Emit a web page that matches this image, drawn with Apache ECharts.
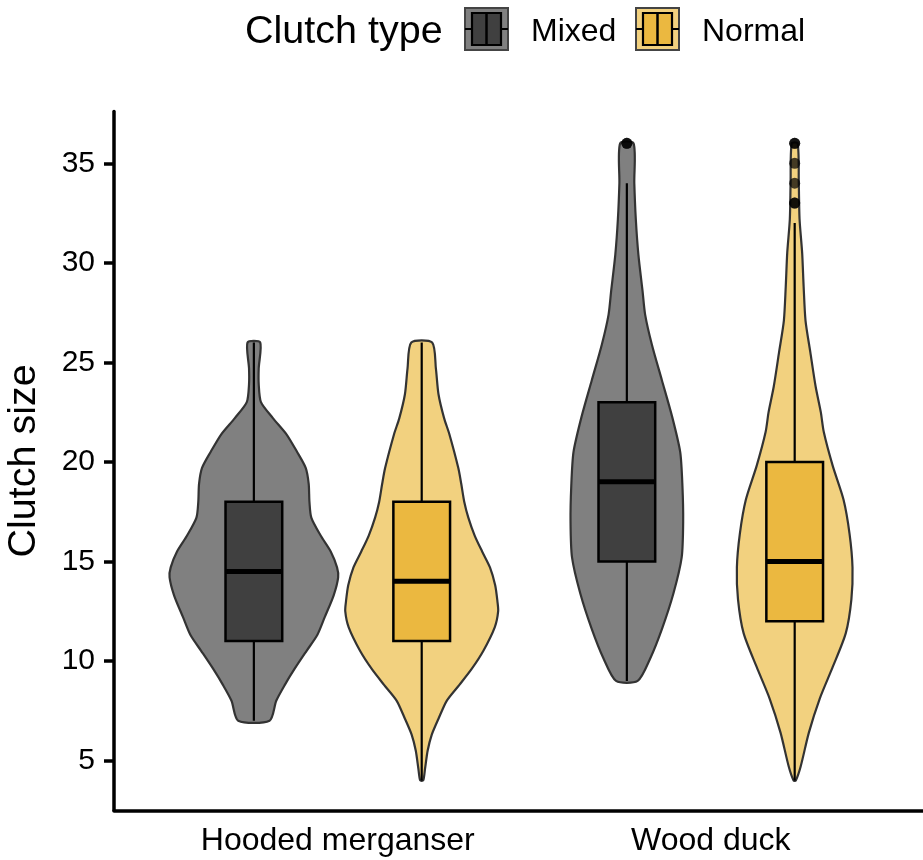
<!DOCTYPE html>
<html>
<head>
<meta charset="utf-8">
<title>Clutch size by species and clutch type</title>
<script src="https://cdn.jsdelivr.net/npm/echarts@6/dist/echarts.min.js"></script>
<style>
  html, body { margin: 0; padding: 0; background: #ffffff; }
  #chart { width: 923px; height: 860px; }
</style>
</head>
<body>
<div id="chart"></div>
<script>
// Categories
const species = ['Hooded merganser', 'Wood duck'];
const clutchTypes = ['Mixed', 'Normal'];
const yTicks = [5, 10, 15, 20, 25, 30, 35];

// Violin outlines: clutch size levels and density half-widths (in category units)
const mergMixedY = [7.0, 8.0, 8.8, 9.6, 10.5, 11.3, 12.2, 13.3, 14.2, 14.7, 15.5, 16.3, 17.2, 18.0, 18.9, 19.7, 20.5, 21.4, 22.2, 23.0, 23.9, 24.7, 26.0];
const mergMixedW = [0.042, 0.060, 0.083, 0.109, 0.141, 0.170, 0.190, 0.214, 0.226, 0.223, 0.206, 0.179, 0.154, 0.149, 0.147, 0.139, 0.116, 0.087, 0.051, 0.019, 0.013, 0.013, 0.017];

const mergNormalY = [4.0, 4.6, 5.5, 6.3, 7.1, 8.0, 8.8, 9.6, 10.5, 11.7, 12.5, 13.0, 13.8, 14.7, 15.5, 16.3, 17.2, 18.0, 18.9, 19.7, 21.4, 22.2, 23.4, 24.7, 26.0];
const mergNormalW = [0.004, 0.009, 0.016, 0.027, 0.045, 0.067, 0.101, 0.134, 0.165, 0.196, 0.205, 0.203, 0.197, 0.183, 0.162, 0.142, 0.125, 0.114, 0.106, 0.098, 0.074, 0.060, 0.045, 0.038, 0.028];

const woodMixedY = [9.0, 10.1, 11.6, 13.4, 15.2, 17.0, 18.8, 20.5, 22.3, 24.1, 25.9, 27.4, 28.6, 30.4, 32.2, 34.0, 36.0];
const woodMixedW = [0.029, 0.062, 0.094, 0.125, 0.147, 0.151, 0.149, 0.143, 0.121, 0.094, 0.067, 0.049, 0.042, 0.031, 0.024, 0.020, 0.018];

const woodNormalY = [4.0, 4.7, 6.4, 8.1, 9.7, 11.4, 13.1, 14.7, 16.4, 18.1, 19.8, 21.5, 22.5, 23.8, 25.5, 27.1, 28.8, 30.5, 32.2, 34.0, 36.0];
const woodNormalW = [0.003, 0.016, 0.038, 0.067, 0.102, 0.137, 0.152, 0.155, 0.147, 0.131, 0.102, 0.078, 0.070, 0.056, 0.042, 0.029, 0.024, 0.020, 0.013, 0.011, 0.008];

// Box statistics: [lower whisker, Q1, median, Q3, upper whisker]
const mergMixedBox = [7, 11, 14.5, 18, 26];
const mergNormalBox = [4, 11, 14, 18, 26];
const woodMixedBox = [9, 15, 19, 23, 34];
const woodNormalBox = [4, 12, 15, 20, 32];

// Outliers: values and number of nests at each value
const woodMixedOutliers = [36];
const woodMixedOutlierCounts = [2];
const woodNormalOutliers = [33, 34, 35, 36];
const woodNormalOutlierCounts = [2, 1, 1, 2];

const violinColors = { Mixed: '#808080', Normal: '#F2D17F' };
const boxColors = { Mixed: '#404040', Normal: '#EBB840' };
const FONT = '"Liberation Sans", Arial, Helvetica, sans-serif';

const groups = {
  Mixed: [
    { y: mergMixedY, w: mergMixedW, box: mergMixedBox, out: [], cnt: [] },
    { y: woodMixedY, w: woodMixedW, box: woodMixedBox, out: woodMixedOutliers, cnt: woodMixedOutlierCounts }
  ],
  Normal: [
    { y: mergNormalY, w: mergNormalW, box: mergNormalBox, out: [], cnt: [] },
    { y: woodNormalY, w: woodNormalW, box: woodNormalBox, out: woodNormalOutliers, cnt: woodNormalOutlierCounts }
  ]
};

const DODGE = 0.225;     // half of the dodge width
const BOX_HALF = 0.076;  // half box width in category units

function makeRenderer(type, offset) {
  return function (params, api) {
    const idx = api.value(0) - 1;
    const g = groups[type][idx];
    const cx = idx + 1 + offset;
    const pts = [];
    for (let i = 0; i < g.y.length; i++) pts.push(api.coord([cx - g.w[i], g.y[i]]));
    for (let i = g.y.length - 1; i >= 0; i--) pts.push(api.coord([cx + g.w[i], g.y[i]]));
    const b = g.box;
    const pMin = api.coord([cx, b[0]]);
    const pMax = api.coord([cx, b[4]]);
    const tl = api.coord([cx - BOX_HALF, b[3]]);
    const br = api.coord([cx + BOX_HALF, b[1]]);
    const medL = api.coord([cx - BOX_HALF, b[2]]);
    const medR = api.coord([cx + BOX_HALF, b[2]]);
    const children = [
      { type: 'polygon', shape: { points: pts, smooth: 0.25 },
        style: { fill: violinColors[type], stroke: '#333333', lineWidth: 2.2 } },
      { type: 'line', shape: { x1: pMin[0], y1: pMin[1], x2: pMax[0], y2: pMax[1] },
        style: { stroke: '#000000', lineWidth: 2.2 } },
      { type: 'rect', shape: { x: tl[0], y: tl[1], width: br[0] - tl[0], height: br[1] - tl[1] },
        style: { fill: boxColors[type], stroke: '#000000', lineWidth: 2.5 } },
      { type: 'line', shape: { x1: medL[0], y1: medL[1], x2: medR[0], y2: medR[1] },
        style: { stroke: '#000000', lineWidth: 5 } }
    ];
    g.out.forEach(function (v, k) {
      const p = api.coord([cx, v]);
      for (let n = 0; n < g.cnt[k]; n++) {
        children.push({ type: 'circle', shape: { cx: p[0], cy: p[1], r: 5.5 },
          style: { fill: '#000000', opacity: 0.72 } });
      }
    });
    return { type: 'group', children: children };
  };
}

function legendKey(x, type) {
  return {
    type: 'group', x: x, y: 8,
    children: [
      { type: 'rect', shape: { x: 0, y: 0, width: 43, height: 42 },
        style: { fill: violinColors[type], stroke: '#444444', lineWidth: 2 } },
      { type: 'line', shape: { x1: 0, y1: 21, x2: 7, y2: 21 }, style: { stroke: '#000', lineWidth: 2 } },
      { type: 'line', shape: { x1: 36, y1: 21, x2: 43, y2: 21 }, style: { stroke: '#000', lineWidth: 2 } },
      { type: 'rect', shape: { x: 7, y: 5, width: 29, height: 32 },
        style: { fill: boxColors[type], stroke: '#000', lineWidth: 2.2 } },
      { type: 'line', shape: { x1: 21.5, y1: 5, x2: 21.5, y2: 37 }, style: { stroke: '#000', lineWidth: 2.5 } }
    ]
  };
}

const chart = echarts.init(document.getElementById('chart'), null, { renderer: 'canvas' });

chart.setOption({
  animation: false,
  backgroundColor: '#ffffff',
  grid: { left: 114, right: 0, top: 111.5, bottom: 49.7, containLabel: false, outerBoundsMode: 'none' },
  xAxis: {
    type: 'value', min: 0.4, max: 2.569,
    axisLine: { show: true, onZero: false, lineStyle: { color: '#000', width: 3.5 } },
    axisTick: { show: false },
    splitLine: { show: false },
    axisLabel: {
      customValues: [1, 2],
      formatter: function (v) { return species[Math.round(v) - 1]; },
      fontSize: 32, color: '#000', fontFamily: FONT, margin: 15
    }
  },
  yAxis: {
    type: 'value', min: 2.5, max: 37.6,
    name: 'Clutch size', nameLocation: 'middle', nameGap: 70, nameRotate: 90,
    nameTextStyle: { fontSize: 39.5, color: '#000', fontFamily: FONT },
    axisLine: { show: true, onZero: false, lineStyle: { color: '#000', width: 3.5 } },
    axisTick: { show: true, length: 10, customValues: yTicks, lineStyle: { color: '#000', width: 3.5 } },
    splitLine: { show: false },
    axisLabel: { customValues: yTicks, fontSize: 30, color: '#000', fontFamily: FONT, margin: 19 }
  },
  series: clutchTypes.map(function (t, i) {
    return {
      name: t, type: 'custom',
      renderItem: makeRenderer(t, i === 0 ? -DODGE : DODGE),
      encode: { x: 0, y: 1 },
      data: species.map(function (s, k) { return [k + 1, groups[t][k].box[2]]; }),
      clip: false, silent: true
    };
  }),
  graphic: [
    { type: 'text', x: 245, y: 32,
      style: { text: 'Clutch type', fontSize: 39.5, fontFamily: FONT, fill: '#000', verticalAlign: 'middle' } },
    legendKey(465, 'Mixed'),
    { type: 'text', x: 531, y: 32,
      style: { text: clutchTypes[0], fontSize: 32, fontFamily: FONT, fill: '#000', verticalAlign: 'middle' } },
    legendKey(636, 'Normal'),
    { type: 'text', x: 702, y: 32,
      style: { text: clutchTypes[1], fontSize: 32, fontFamily: FONT, fill: '#000', verticalAlign: 'middle' } }
  ]
});
</script>
</body>
</html>
